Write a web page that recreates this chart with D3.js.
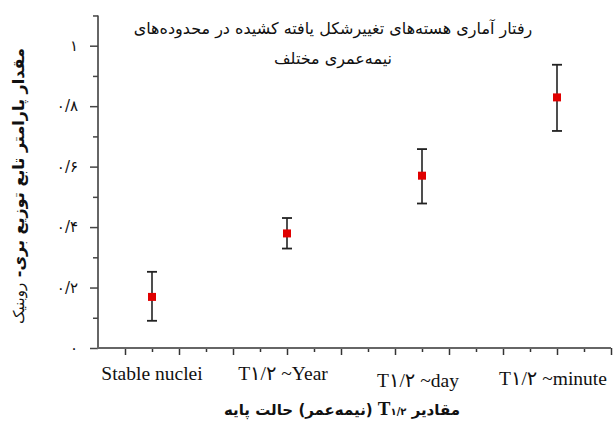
<!DOCTYPE html>
<html>
<head>
<meta charset="utf-8">
<script src="https://cdn.jsdelivr.net/npm/d3@7"></script>
<style>
  body { margin: 0; background: #fff; }
  svg { display: block; }
</style>
</head>
<body>
<div id="chart"></div>
<script>
// data
const categories = ["Stable nuclei", "T۱/۲ ~Year", "T۱/۲ ~day", "T۱/۲ ~minute"];
const catPos = [2, 7, 12, 17];            // position on the x axis (tick units)
const values = [0.169, 0.379, 0.570, 0.829];
const errLow = [0.090, 0.329, 0.478, 0.718];
const errHigh = [0.252, 0.430, 0.658, 0.937];
const yMajor = [0, 0.2, 0.4, 0.6, 0.8, 1.0];
const yMinor = [0.1, 0.3, 0.5, 0.7, 0.9, 1.1];
const labelDrop = [0, 0, 7, 5];          // some labels sit a bit lower in the original

const width = 614, height = 424;
const margin = { left: 98, right: 3, top: 15, bottom: 76 };

const svg = d3.select("#chart").append("svg")
  .attr("width", width)
  .attr("height", height);

const x = d3.scaleLinear().domain([0, 19]).range([margin.left, width - margin.right]);
const y = d3.scaleLinear().domain([0, 1]).range([height - margin.bottom, 45.7]);

const fa = d => String(d).replace(/[0-9]/g, c => "۰۱۲۳۴۵۶۷۸۹"[+c]).replace(".", "/");

// y axis
const yTop = y(1.1);
svg.append("line")
  .attr("x1", x(0)).attr("x2", x(0))
  .attr("y1", yTop).attr("y2", y(0))
  .attr("stroke", "#666").attr("stroke-width", 2);

const yAxis = svg.append("g")
  .attr("transform", `translate(${x(0)},0)`)
  .call(d3.axisLeft(y).tickValues(yMajor).tickSize(8).tickPadding(12)
    .tickFormat(d => fa(+d.toFixed(1))));
yAxis.select(".domain").remove();
yAxis.selectAll(".tick line").attr("stroke", "#444").attr("stroke-width", 1.5);
yAxis.selectAll("text")
  .attr("font-family", "DejaVu Sans")
  .attr("font-size", 15)
  .attr("fill", "#111");

const yAxisMinor = svg.append("g")
  .attr("transform", `translate(${x(0)},0)`)
  .call(d3.axisLeft(y).tickValues(yMinor).tickSize(5).tickFormat(""));
yAxisMinor.select(".domain").remove();
yAxisMinor.selectAll(".tick line").attr("stroke", "#444").attr("stroke-width", 1.5);

// x axis
const xAxis = svg.append("g")
  .attr("transform", `translate(0,${y(0)})`)
  .call(d3.axisBottom(x).tickValues(d3.range(1, 20, 2)).tickSize(7).tickFormat(""));
xAxis.select(".domain").remove();
xAxis.selectAll(".tick line").attr("stroke", "#333").attr("stroke-width", 1.5);

const xAxisMinor = svg.append("g")
  .attr("transform", `translate(0,${y(0)})`)
  .call(d3.axisBottom(x).tickValues(d3.range(2, 19, 2)).tickSize(4).tickFormat(""));
xAxisMinor.select(".domain").remove();
xAxisMinor.selectAll(".tick line").attr("stroke", "#333").attr("stroke-width", 1.5);

svg.append("line")
  .attr("x1", x(0) - 1).attr("x2", x(19))
  .attr("y1", y(0)).attr("y2", y(0))
  .attr("stroke", "#666").attr("stroke-width", 2);

// category labels
svg.append("g").selectAll("text")
  .data(categories)
  .join("text")
  .attr("x", (d, i) => x(catPos[i]) - (i ? 4 : 0))
  .attr("y", (d, i) => y(0) + 32 + labelDrop[i])
  .attr("text-anchor", "middle")
  .attr("font-family", "Liberation Serif, DejaVu Sans")
  .attr("font-size", 19.5)
  .attr("fill", "#111")
  .text(d => d);

// error bars
const bars = svg.append("g").selectAll("g")
  .data(values)
  .join("g");
bars.append("line")
  .attr("x1", (d, i) => x(catPos[i])).attr("x2", (d, i) => x(catPos[i]))
  .attr("y1", (d, i) => y(errLow[i])).attr("y2", (d, i) => y(errHigh[i]))
  .attr("stroke", "#222").attr("stroke-width", 1.6);
bars.append("line")
  .attr("x1", (d, i) => x(catPos[i]) - 5).attr("x2", (d, i) => x(catPos[i]) + 5)
  .attr("y1", (d, i) => y(errLow[i])).attr("y2", (d, i) => y(errLow[i]))
  .attr("stroke", "#222").attr("stroke-width", 1.8);
bars.append("line")
  .attr("x1", (d, i) => x(catPos[i]) - 5).attr("x2", (d, i) => x(catPos[i]) + 5)
  .attr("y1", (d, i) => y(errHigh[i])).attr("y2", (d, i) => y(errHigh[i]))
  .attr("stroke", "#222").attr("stroke-width", 1.8);
bars.append("rect")
  .attr("x", (d, i) => x(catPos[i]) - 4)
  .attr("y", d => y(d) - 4)
  .attr("width", 8).attr("height", 8)
  .attr("fill", "#e00000");

// title
const title = svg.append("text")
  .attr("text-anchor", "middle")
  .attr("direction", "rtl")
  .attr("font-family", "DejaVu Sans")
  .attr("font-size", 16)
  .attr("fill", "#111");
title.append("tspan").attr("x", 333).attr("y", 34)
  .text("رفتار آماری هسته‌های تغییرشکل یافته کشیده در محدوده‌های");
title.append("tspan").attr("x", 333).attr("y", 64)
  .text("نیمه‌عمری مختلف");

// x axis title
const xt = svg.append("text")
  .attr("x", 342).attr("y", 415)
  .attr("text-anchor", "middle")
  .attr("direction", "rtl")
  .attr("font-family", "DejaVu Sans")
  .attr("font-weight", "bold")
  .attr("font-size", 15)
  .attr("fill", "#111");
xt.append("tspan").text("مقادیر ");
xt.append("tspan").attr("font-family", "Liberation Serif").attr("font-size", 19).text("T");
xt.append("tspan").attr("font-size", 10).text("۱/۲");
xt.append("tspan").text(" (نیمه‌عمر) حالت پایه");

// y axis title
const yt = svg.append("text")
  .attr("transform", "translate(24,186) rotate(-90)")
  .attr("text-anchor", "middle")
  .attr("direction", "rtl")
  .attr("font-family", "DejaVu Sans")
  .attr("font-weight", "bold")
  .attr("font-size", 16)
  .attr("fill", "#111");
yt.append("tspan").text("مقدار پارامتر تابع توزیع بری- ");
yt.append("tspan").attr("font-weight", "normal").attr("font-size", 15).text("روبنیک");
</script>
</body>
</html>
